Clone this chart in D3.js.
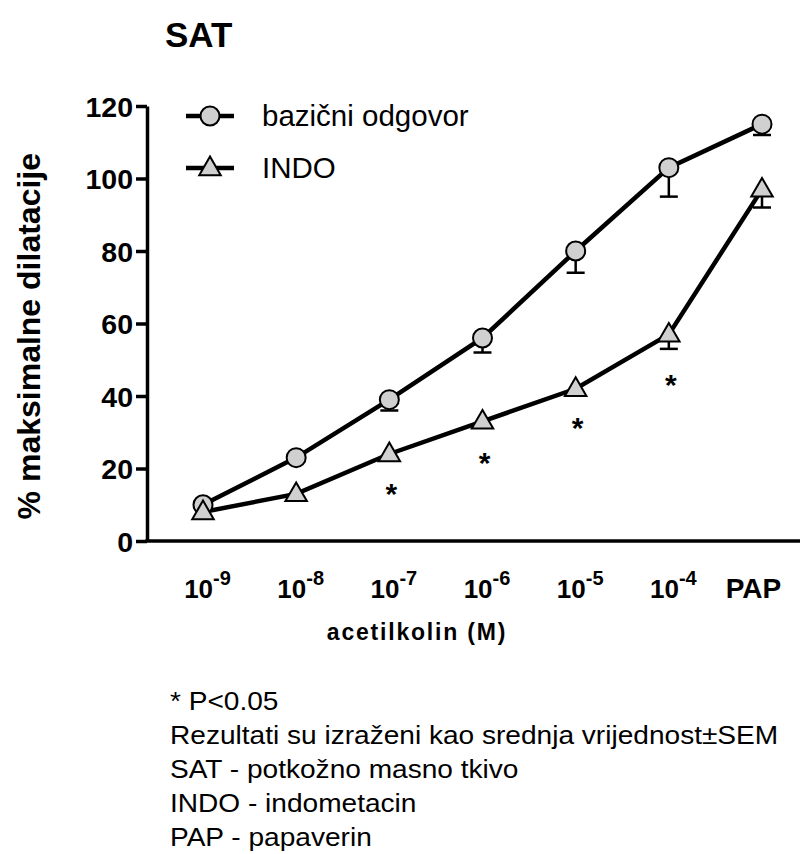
<!DOCTYPE html>
<html>
<head>
<meta charset="utf-8">
<script src="https://cdn.jsdelivr.net/npm/d3@7"></script>
<style>
  body { margin: 0; background: #fff; }
  svg { font-family: Arial, "Liberation Sans", sans-serif; }
</style>
</head>
<body>
<div id="canvas"></div>
<script>
// concentrations of acetylcholine, PAP = papaverine
var categories = ["-9", "-8", "-7", "-6", "-5", "-4", "PAP"];
var baseMean = [10, 23, 39, 56, 80, 103, 115];
var baseSem  = [1, 1, 3, 4, 6, 8, 3];
var indoMean = [8, 13, 24, 33, 42, 57, 97];
var indoSem  = [1, 1, 1, 1.5, 1, 4, 5];
// asterisk where P<0.05 (INDO vs baseline)
var signif = [false, false, true, true, true, true, false];
var yTicks = [0, 20, 40, 60, 80, 100, 120];
var notes = [
  "* P<0.05",
  "Rezultati su izraženi kao srednja vrijednost±SEM",
  "SAT - potkožno masno tkivo",
  "INDO - indometacin",
  "PAP - papaverin"
];

var width = 804, height = 854;
var svg = d3.select("#canvas").append("svg")
  .attr("width", width)
  .attr("height", height);

var x = d3.scalePoint().domain(categories).range([203, 762]);
var y = d3.scaleLinear().domain([0, 120]).range([541, 106]);
var axisLeftX = 147;

// title
svg.append("text")
  .attr("x", 165).attr("y", 47)
  .style("font-size", "35px").style("font-weight", "bold")
  .text("SAT");

// Y axis
var yAxis = svg.append("g")
  .attr("transform", "translate(" + axisLeftX + ",0)")
  .call(d3.axisLeft(y).tickValues(yTicks).tickSize(11).tickSizeOuter(0).tickPadding(3));
yAxis.select(".domain").attr("stroke", "#000").attr("stroke-width", 3.5);
yAxis.selectAll(".tick line").attr("stroke", "#000").attr("stroke-width", 3.5);
yAxis.selectAll(".tick text")
  .attr("fill", "#000")
  .style("font-size", "28.5px").style("font-weight", "bold")
  .attr("dy", "0.36em");

// X axis
svg.append("line")
  .attr("x1", axisLeftX - 1.75).attr("x2", 800)
  .attr("y1", y(0)).attr("y2", y(0))
  .attr("stroke", "#000").attr("stroke-width", 3.5);

var xAxis = svg.append("g")
  .attr("transform", "translate(0," + y(0) + ")")
  .call(d3.axisBottom(x).tickSize(0).tickFormat(""));
xAxis.select(".domain").remove();
xAxis.selectAll(".tick text").remove();
xAxis.selectAll(".tick").each(function(d) {
  var t = d3.select(this).append("text")
    .attr("y", 57)
    .attr("text-anchor", "middle")
    .attr("fill", "#000")
    .style("font-weight", "bold");
  if (d === "PAP") {
    t.attr("x", -9).style("font-size", "28px").text("PAP");
  } else {
    t.attr("x", 4).style("font-size", "26px");
    t.append("tspan").text("10");
    t.append("tspan").attr("dy", -13).style("font-size", "20px").text(d);
  }
});

svg.append("text")
  .attr("x", 417).attr("y", 640)
  .attr("text-anchor", "middle")
  .style("font-size", "23px").style("font-weight", "bold")
  .style("letter-spacing", "1.8px")
  .text("acetilkolin (M)");

svg.append("text")
  .attr("transform", "translate(40," + y(56.5) + ") rotate(-90)")
  .attr("text-anchor", "middle")
  .style("font-size", "32px").style("font-weight", "bold")
  .text("% maksimalne dilatacije");

var base = categories.map(function(c, i) { return {c: c, m: baseMean[i], s: baseSem[i]}; });
var indo = categories.map(function(c, i) { return {c: c, m: indoMean[i], s: indoSem[i], sig: signif[i]}; });

var line = d3.line().x(function(d) { return x(d.c); }).y(function(d) { return y(d.m); });

function errorBars(data) {
  var g = svg.append("g").attr("stroke", "#000").attr("stroke-width", 2.5);
  g.selectAll("line.v").data(data).enter().append("line")
    .attr("x1", function(d) { return x(d.c); }).attr("x2", function(d) { return x(d.c); })
    .attr("y1", function(d) { return y(d.m); }).attr("y2", function(d) { return y(d.m - d.s); });
  g.selectAll("line.h").data(data).enter().append("line")
    .attr("x1", function(d) { return x(d.c) - 9; }).attr("x2", function(d) { return x(d.c) + 9; })
    .attr("y1", function(d) { return y(d.m - d.s); }).attr("y2", function(d) { return y(d.m - d.s); });
}
errorBars(base);
errorBars(indo);

svg.append("path").datum(base).attr("d", line)
  .attr("fill", "none").attr("stroke", "#000").attr("stroke-width", 4.5);
svg.append("path").datum(indo).attr("d", line)
  .attr("fill", "none").attr("stroke", "#000").attr("stroke-width", 4.5);

var tri = d3.symbol().type(d3.symbolTriangle).size(200);

svg.append("g").selectAll("circle").data(base).enter().append("circle")
  .attr("cx", function(d) { return x(d.c); })
  .attr("cy", function(d) { return y(d.m); })
  .attr("r", 9.5)
  .attr("fill", "#d0d0d0").attr("stroke", "#000").attr("stroke-width", 2);

svg.append("g").selectAll("path").data(indo).enter().append("path")
  .attr("d", tri)
  .attr("transform", function(d) { return "translate(" + x(d.c) + "," + (y(d.m) + 1) + ")"; })
  .attr("fill", "#d0d0d0").attr("stroke", "#000").attr("stroke-width", 2);

// asterisks
svg.append("g").selectAll("text").data(indo.filter(function(d) { return d.sig; })).enter().append("text")
  .attr("x", function(d) { return x(d.c) + 2; })
  .attr("y", function(d) { return y(d.m - d.s) + 46; })
  .attr("text-anchor", "middle")
  .style("font-size", "30px").style("font-weight", "bold")
  .text("*");

// legend
var legend = svg.append("g");
var legItems = [{label: "bazični odgovor", shape: "circle"}, {label: "INDO", shape: "tri"}];
legItems.forEach(function(it, i) {
  var ly = 116 + i * 52;
  legend.append("line").attr("x1", 186).attr("x2", 234).attr("y1", ly).attr("y2", ly)
    .attr("stroke", "#000").attr("stroke-width", 4.5);
  if (it.shape === "circle") {
    legend.append("circle").attr("cx", 210).attr("cy", ly).attr("r", 9.5)
      .attr("fill", "#d0d0d0").attr("stroke", "#000").attr("stroke-width", 2);
  } else {
    legend.append("path").attr("d", tri).attr("transform", "translate(210," + (ly + 1) + ")")
      .attr("fill", "#d0d0d0").attr("stroke", "#000").attr("stroke-width", 2);
  }
  legend.append("text").attr("x", 262).attr("y", ly + 10)
    .style("font-size", "29.5px")
    .text(it.label);
});

// footnotes
svg.append("g")
  .attr("transform", "translate(170,0) scale(1.08,1)")
  .selectAll("text").data(notes).enter().append("text")
  .attr("x", 0)
  .attr("y", function(d, i) { return 710 + i * 34; })
  .style("font-size", "26px")
  .text(function(d) { return d; });
</script>
</body>
</html>
